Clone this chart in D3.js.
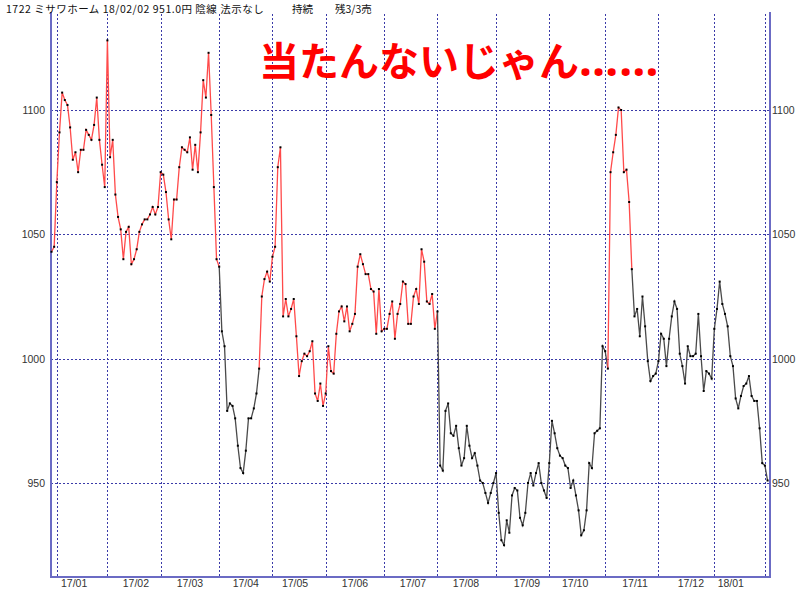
<!DOCTYPE html>
<html><head><meta charset="utf-8">
<script src="https://cdn.jsdelivr.net/npm/d3@7"></script>
<style>body{margin:0;background:#fff}svg{display:block}</style>
</head><body>
<svg id="c" width="800" height="589"></svg>
<script>
// ---- data ----
const prices = [
  1043, 1045,
  1071, 1091, 1107, 1104, 1102, 1093, 1080, 1083, 1075, 1084, 1084, 1092, 1090, 1088, 1094, 1105, 1088, 1078, 1069,
  1128, 1081, 1088, 1066, 1057, 1052, 1040, 1051, 1053, 1038, 1040, 1044, 1051, 1054, 1056, 1056, 1058, 1061, 1058, 1061,
  1075, 1074, 1067, 1056, 1048, 1064, 1064, 1077, 1085, 1084, 1083, 1089, 1076, 1086, 1075, 1091, 1112, 1105, 1123, 1098, 1069, 1040,
  1037, 1011, 1005, 979, 982, 981, 976, 965, 956, 954, 963, 976, 976, 980, 986, 996, 1025, 1032, 1035, 1031,
  1041, 1045, 1077, 1085, 1017, 1024, 1017, 1020, 1024, 1009, 993, 999, 1002, 1001, 1003, 1007, 986, 983, 990, 981,
  986, 1005, 995, 994, 1010, 1019, 1021, 1015, 1021, 1011, 1014, 1018, 1037, 1042, 1038, 1034, 1034, 1028, 1027, 1010, 1028, 1011,
  1012, 1012, 1018, 1023, 1008, 1018, 1022, 1031, 1030, 1014, 1014, 1025, 1028, 1022, 1044, 1039, 1023, 1022, 1026, 1012,
  1019, 957, 955, 979, 982, 970, 969, 973, 964, 957, 960, 973, 965, 960, 962, 957, 951, 950, 946, 942, 946, 950,
  954, 938, 927, 925, 935, 930, 945, 948, 947, 936, 933, 938, 950, 954, 949, 954, 958, 950, 947, 944,
  958, 975, 970, 964, 961, 960, 957, 956, 948, 951, 945, 939, 929, 931, 939, 958, 956, 970, 971, 972, 1005,
  1003, 996, 1075, 1083, 1090, 1101, 1100, 1075, 1076, 1063, 1036, 1017, 1020, 1009, 1025, 1013, 999, 991, 993, 994,
  999, 1010, 1008, 997, 1008, 1017, 1023, 1020, 1002, 997, 990, 1005, 1001, 1001, 1002, 1018, 1001, 987, 995, 994, 992,
  1012, 1020, 1031, 1022, 1018, 1013, 1001, 997, 984, 980, 985, 989, 990, 993, 985, 983, 983, 972, 958,
  957, 951
];
// index ranges of the holding (red) signal
const redRanges = [[0, 63], [78, 145], [209, 218]];
// first trading-day index of each month (grid lines)
const monthStartIdx = [2, 21, 41, 63, 83, 103, 125, 145, 167, 187, 208, 228, 249, 268];
const monthLabels = ["17/01","17/02","17/03","17/04","17/05","17/06","17/07","17/08","17/09","17/10","17/11","17/12","18/01"];
const monthLabelIdx = [8.5, 31.7, 52, 73, 91.5, 114, 135.8, 155.7, 178.6, 196.7, 219.2, 240.2, 255.2];
const yTicks = [950, 1000, 1050, 1100];
const headerText = ["1722 ミサワホーム 18/02/02 951.0円 陰線 法示なし", "持続", "残3/3売"];
const titleMain = "当たんないじゃん";
const titleDots = "……";

// ---- layout ----
const svg = d3.select("#c");
const pL = 51, pR = 770, pT = 12, pB = 577;
const x = d3.scaleLinear().domain([0, prices.length - 1]).range([51.5, 51.5 + (prices.length - 1) * 2.662]);
const y = d3.scaleLinear().domain([950, 1100]).range([483, 110]);
const gridColor = "#3a3aa8";
const frameColor = "#6b6bc4";
const labelFont = "'Liberation Sans', Arial, sans-serif";

// horizontal grid
svg.append("g").selectAll("line").data(yTicks).join("line")
  .attr("x1", pL).attr("x2", pR)
  .attr("y1", d => Math.round(y(d)) + 0.5).attr("y2", d => Math.round(y(d)) + 0.5)
  .attr("stroke", gridColor).attr("stroke-width", 1).attr("stroke-dasharray", "2,2");
// vertical grid
svg.append("g").selectAll("line").data(monthStartIdx).join("line")
  .attr("x1", d => Math.round(x(d)) + 0.5).attr("x2", d => Math.round(x(d)) + 0.5)
  .attr("y1", pT + 2).attr("y2", pB)
  .attr("stroke", gridColor).attr("stroke-width", 1).attr("stroke-dasharray", "2,2");

// frame
svg.append("path")
  .attr("d", `M${pL},${pT} V${pB} H${pR} V${pT}`)
  .attr("fill", "none").attr("stroke", frameColor).attr("stroke-width", 2);

// y labels
const yl = svg.append("g").attr("font-family", labelFont).attr("font-size", 10.5).attr("fill", "#333");
yl.selectAll("text.l").data(yTicks).join("text").attr("class", "l")
  .attr("x", 45).attr("y", d => y(d) + 4).attr("text-anchor", "end").text(d => d);
yl.selectAll("text.r").data(yTicks).join("text").attr("class", "r")
  .attr("x", 772).attr("y", d => y(d) + 4).attr("text-anchor", "start").text(d => d);

// x labels
svg.append("g").attr("font-family", labelFont).attr("font-size", 10.5).attr("fill", "#333")
  .selectAll("text").data(monthLabels).join("text")
  .attr("x", (d, i) => x(monthLabelIdx[i])).attr("y", 587).attr("text-anchor", "middle").text(d => d);

// price line, coloured by signal
const isRed = i => redRanges.some(([a, b]) => i >= a && i + 1 <= b);
const runs = [];
for (let i = 0; i < prices.length - 1; i++) {
  const c = isRed(i);
  if (runs.length && runs[runs.length - 1].red === c) runs[runs.length - 1].end = i + 1;
  else runs.push({ red: c, start: i, end: i + 1 });
}
const line = d3.line().x(d => x(d)).y(d => y(prices[d]));
svg.append("g").selectAll("path").data(runs).join("path")
  .attr("d", r => line(d3.range(r.start, r.end + 1)))
  .attr("fill", "none")
  .attr("stroke", r => r.red ? "#ff4a4a" : "#4a4a4a")
  .attr("stroke-width", 1.3);
// points
svg.append("g").selectAll("rect").data(prices).join("rect")
  .attr("x", (d, i) => x(i) - 1).attr("y", d => y(d) - 1)
  .attr("width", 2).attr("height", 2).attr("fill", "#000");

// header
const hf = "'Noto Sans CJK JP', sans-serif";
const hdr = svg.append("g").attr("font-family", hf).attr("font-size", 10.5).attr("fill", "#111");
hdr.append("text").attr("x", 6).attr("y", 13).attr("letter-spacing", 0.5).text(headerText[0]);
hdr.append("text").attr("x", 292).attr("y", 13).text(headerText[1]);
hdr.append("text").attr("x", 335).attr("y", 13).text(headerText[2]);

// big caption
const cap = svg.append("text").attr("x", 259).attr("y", 76)
  .attr("font-weight", "bold").attr("font-size", 40).attr("fill", "#ff0000");
cap.append("tspan").attr("font-family", "'Noto Sans CJK JP', sans-serif").text(titleMain);
cap.append("tspan").attr("font-family", "'Noto Sans', 'DejaVu Sans', sans-serif")
  .attr("font-size", 46).attr("letter-spacing", 1).text(titleDots);
</script>
</body></html>
